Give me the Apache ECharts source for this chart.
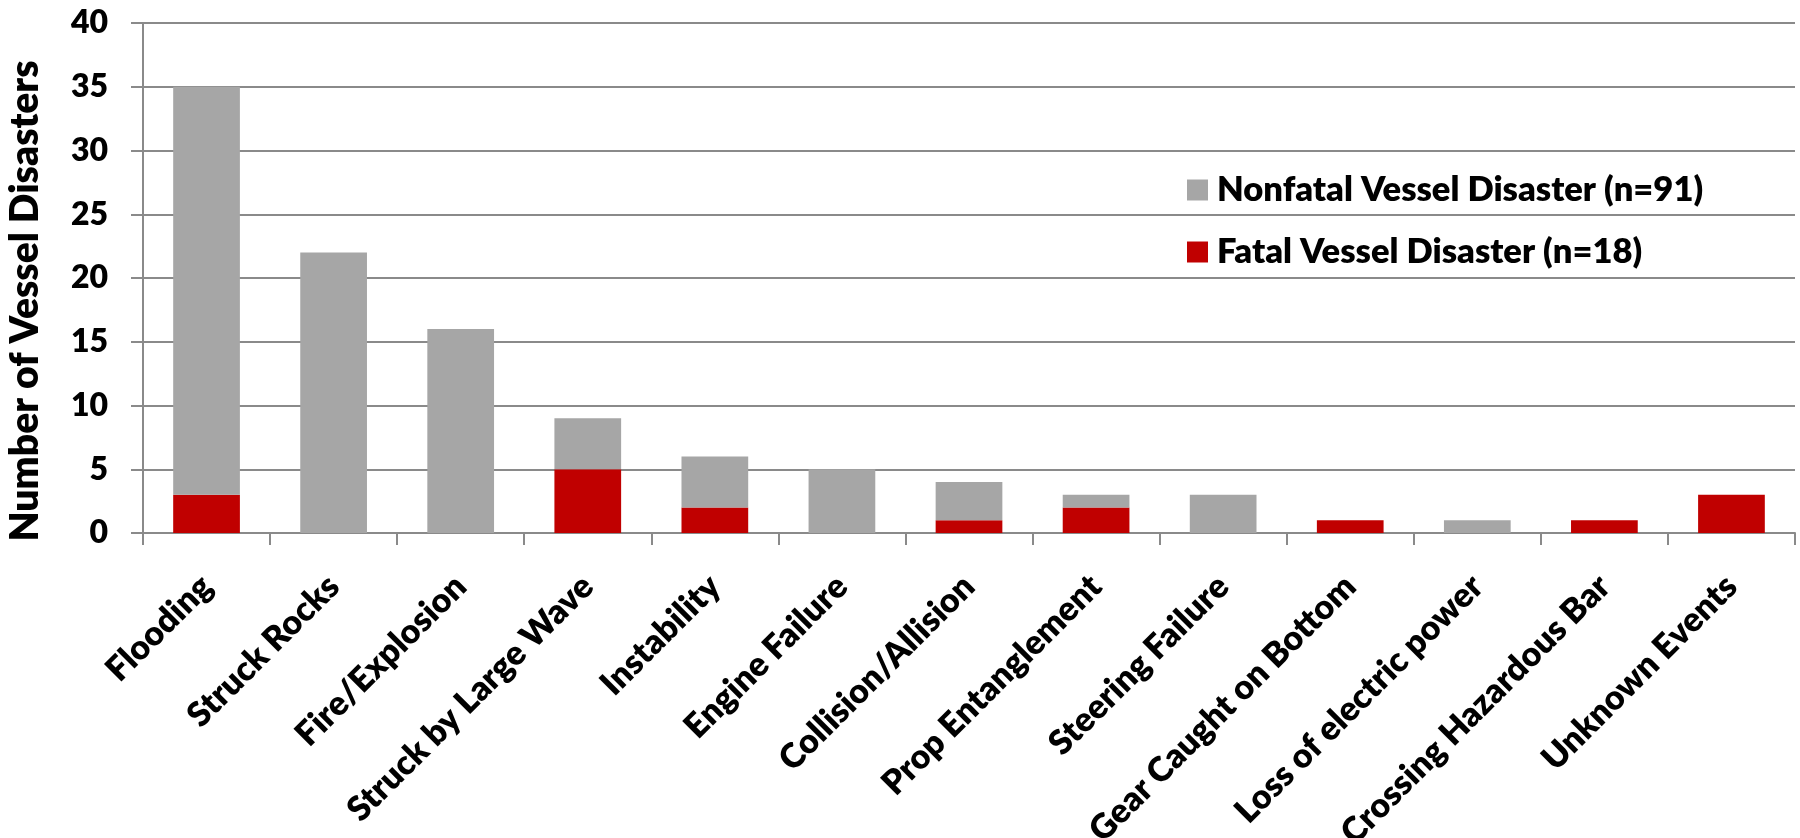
<!DOCTYPE html>
<html>
<head>
<meta charset="utf-8">
<script src="https://cdn.jsdelivr.net/npm/echarts@6/dist/echarts.min.js"></script>
<style>
  html, body { margin: 0; padding: 0; background: #fff; }
  #chart { width: 1800px; height: 838px; }
</style>
</head>
<body>
<div id="chart"></div>
<script>
// Causes of vessel disasters, split by outcome
const categories = [
  'Flooding', 'Struck Rocks', 'Fire/Explosion', 'Struck by Large Wave',
  'Instability', 'Engine Failure', 'Collision/Allision', 'Prop Entanglement',
  'Steering Failure', 'Gear Caught on Bottom', 'Loss of electric power',
  'Crossing Hazardous Bar', 'Unknown Events'
];
const fatal    = [3, 0, 0, 5, 2, 0, 1, 2, 0, 1, 0, 1, 3];
const nonfatal = [32, 22, 16, 4, 4, 5, 3, 1, 3, 0, 1, 0, 0];
const seriesNames = ['Nonfatal Vessel Disaster (n=91)', 'Fatal Vessel Disaster (n=18)'];
const yTicks = { min: 0, max: 40, interval: 5 };

const FONT = 'Lato';
const WEIGHT = 800;
const axisGrey = '#8a8a8a';

const chart = echarts.init(document.getElementById('chart'));
chart.setOption({
  animation: false,
  textStyle: { fontFamily: FONT },
  grid: {
    left: 143, right: 5, top: 23, bottom: 305,
    containLabel: false, outerBoundsMode: 'none'
  },
  legend: {
    orient: 'vertical',
    left: 1182,
    top: 167,
    itemWidth: 21,
    itemHeight: 21,
    itemGap: 26,
    icon: 'rect',
    data: [seriesNames[0], seriesNames[1]],
    textStyle: {
      fontFamily: FONT, fontWeight: WEIGHT, fontSize: 34.5, lineHeight: 36,
      color: '#000', padding: [0, 0, 0, 4]
    }
  },
  xAxis: {
    type: 'category',
    data: categories,
    axisLine: { lineStyle: { color: axisGrey, width: 2 } },
    axisTick: { show: true, length: 12, lineStyle: { color: axisGrey, width: 2 } },
    axisLabel: {
      interval: 0,
      rotate: 45,
      margin: 48,
      color: '#000',
      fontFamily: FONT,
      fontWeight: WEIGHT,
      fontSize: 34
    }
  },
  yAxis: {
    type: 'value',
    min: yTicks.min,
    max: yTicks.max,
    interval: yTicks.interval,
    name: 'Number of Vessel Disasters',
    nameLocation: 'middle',
    nameGap: 98,
    nameTextStyle: {
      fontFamily: FONT, fontWeight: WEIGHT, fontSize: 39, color: '#000',
      padding: [0, 46, 0, 0]
    },
    axisLine: { show: true, lineStyle: { color: axisGrey, width: 2 } },
    axisTick: { show: true, length: 12, lineStyle: { color: axisGrey, width: 2 } },
    splitLine: { lineStyle: { color: axisGrey, width: 2 } },
    axisLabel: {
      margin: 35,
      color: '#000',
      fontFamily: FONT,
      fontWeight: WEIGHT,
      fontSize: 32
    }
  },
  series: [
    {
      name: seriesNames[1],
      type: 'bar',
      stack: 'total',
      data: fatal,
      barCategoryGap: '47.5%',
      itemStyle: { color: '#c00000' }
    },
    {
      name: seriesNames[0],
      type: 'bar',
      stack: 'total',
      data: nonfatal,
      barCategoryGap: '47.5%',
      itemStyle: { color: '#a6a6a6' }
    }
  ]
});
</script>
</body>
</html>
